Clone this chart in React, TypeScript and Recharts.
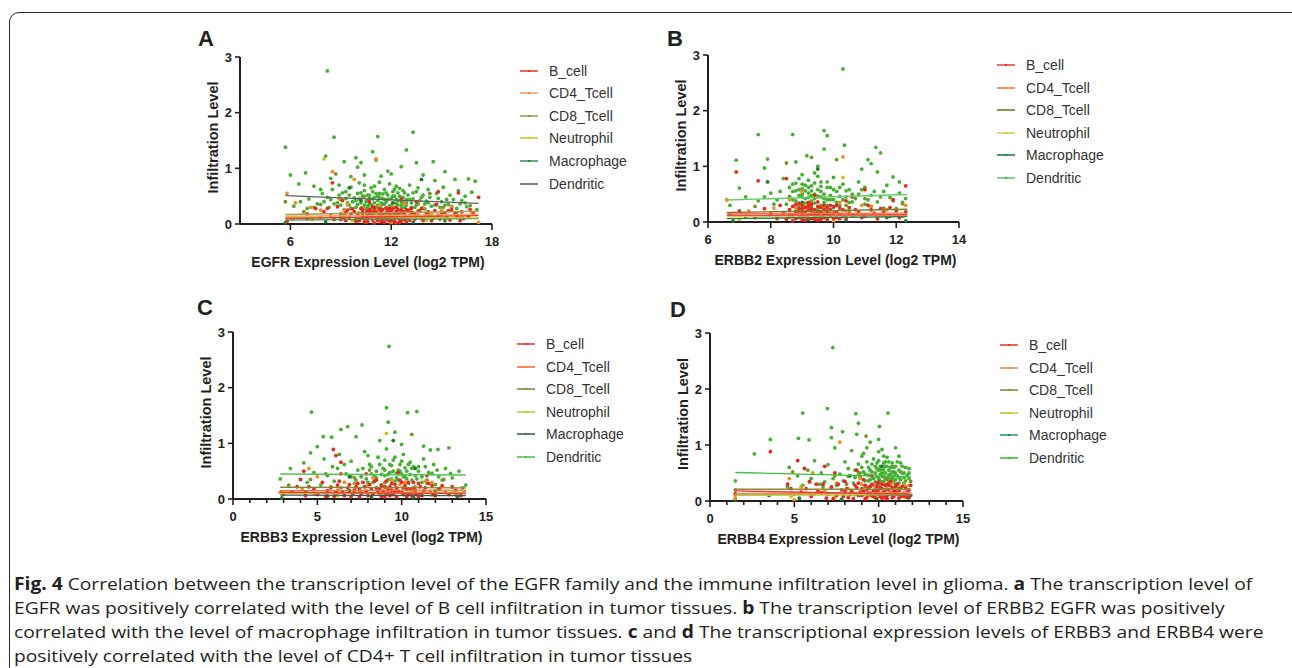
import { ScatterChart, Scatter, XAxis, YAxis, Legend } from 'recharts';

type Pt = [number, number];

const cellTypes = ['B_cell', 'CD4_Tcell', 'CD8_Tcell', 'Neutrophil', 'Macrophage', 'Dendritic'];
const infiltrationTicks = [0, 1, 2, 3];
const pointColors = ['#e8281c', '#f28a26', '#80902a', '#ccc020', '#1f7a30', '#46b034'];

// ---- A: EGFR ----
const egfrTicks = [6, 12, 18];
const egfrDendritic: Pt[] = [
  [8.2, 2.75], [5.7, 1.38], [8.6, 1.56], [11.2, 1.57], [13.3, 1.65], [12.9, 1.33], [10.9, 1.3], [8.1, 1.22], [9.9, 1.19],
  [10.2, 1.1], [9.2, 1.12], [13.5, 1.1], [14.5, 1.12], [12.6, 1.03], [10.0, 1.02], [6.0, 0.88], [6.9, 0.92], [15.2, 0.94],
  [11.8, 0.95], [12.0, 0.9], [9.6, 0.85], [10.4, 0.88], [13.9, 0.88], [16.6, 0.81], [15.8, 0.8], [17.0, 0.77], [14.6, 0.78],
  [11.4, 0.86], [8.4, 0.82], [6.5, 0.72], [7.4, 0.68], [7.9, 0.55], [8.5, 0.62], [8.9, 0.7], [9.3, 0.58], [9.6, 0.66],
  [10.1, 0.74], [10.4, 0.6], [10.7, 0.52], [11.0, 0.68], [11.3, 0.55], [11.6, 0.62], [11.9, 0.72], [12.2, 0.5], [12.5, 0.64],
  [12.8, 0.56], [13.1, 0.7], [13.5, 0.58], [13.8, 0.48], [14.2, 0.62], [14.7, 0.55], [15.1, 0.66], [15.5, 0.52], [16.0, 0.6],
  [16.4, 0.5], [16.8, 0.57], [7.1, 0.45], [8.2, 0.48], [9.0, 0.44], [9.8, 0.47], [10.6, 0.43], [11.5, 0.46], [12.4, 0.42],
  [13.3, 0.45], [14.1, 0.41], [15.3, 0.44], [16.2, 0.42], [6.2, 0.32], [7.0, 0.28], [7.6, 0.36], [8.3, 0.3], [8.8, 0.38],
  [9.2, 0.26], [9.5, 0.34], [9.9, 0.3], [10.2, 0.38], [10.5, 0.27], [10.8, 0.35], [11.1, 0.3], [11.4, 0.38], [11.7, 0.28],
  [12.0, 0.33], [12.3, 0.37], [12.6, 0.29], [12.9, 0.34], [13.2, 0.3], [13.6, 0.36], [14.0, 0.27], [14.4, 0.32], [14.9, 0.3],
  [15.4, 0.35], [15.9, 0.28], [16.5, 0.31], [17.1, 0.26], [10.3, 0.5], [10.9, 0.58], [11.2, 0.42], [11.8, 0.52], [12.1, 0.58],
  [10.0, 0.55], [11.5, 0.35], [12.2, 0.3], [10.6, 0.32], [11.0, 0.48], [11.7, 0.4], [12.7, 0.48], [9.5, 0.52], [10.8, 0.65],
  [11.3, 0.75], [12.3, 0.68], [9.0, 0.34], [9.3, 0.46], [9.6, 0.28], [9.7, 0.4], [10.0, 0.35], [10.1, 0.45], [10.3, 0.3],
  [10.5, 0.4], [10.6, 0.52], [10.7, 0.36], [10.9, 0.45], [11.0, 0.26], [11.1, 0.55], [11.2, 0.34], [11.3, 0.48], [11.4, 0.28],
  [11.6, 0.44], [11.7, 0.56], [11.9, 0.32], [12.0, 0.46], [12.1, 0.38], [12.2, 0.62], [12.4, 0.34], [12.5, 0.5], [12.6, 0.4],
  [12.8, 0.3], [12.9, 0.44], [13.0, 0.52], [13.2, 0.38], [13.4, 0.3], [13.7, 0.42], [14.0, 0.36], [14.3, 0.48], [14.6, 0.34],
  [15.0, 0.4], [15.6, 0.3], [16.1, 0.36], [8.0, 0.4], [8.6, 0.36], [8.9, 0.52], [7.4, 0.3], [6.6, 0.4], [7.8, 0.62],
  [13.6, 0.65], [10.4, 0.7], [9.4, 0.38], [9.9, 0.42], [10.2, 0.56], [10.4, 0.34], [10.7, 0.46], [10.8, 0.28], [11.0, 0.38],
  [11.2, 0.5], [11.3, 0.32], [11.5, 0.54], [11.6, 0.36], [11.8, 0.44], [12.0, 0.28], [12.1, 0.5], [12.3, 0.44], [12.4, 0.56],
  [12.6, 0.34], [12.7, 0.6], [12.9, 0.38], [13.1, 0.44], [13.3, 0.56], [13.5, 0.34], [13.9, 0.52], [14.2, 0.38], [14.8, 0.46],
  [15.2, 0.34], [15.7, 0.44], [16.4, 0.38], [9.1, 0.56], [8.4, 0.44],
];
const egfrBcell: Pt[] = [
  [5.8, 0.05], [6.2, 0.12], [7.0, 0.18], [7.5, 0.28], [8.0, 0.22], [8.4, 0.15], [8.5, 0.74], [8.8, 0.31], [9.0, 0.08],
  [9.1, 0.42], [9.3, 0.2], [9.5, 0.12], [9.7, 0.27], [9.9, 0.05], [10.0, 0.18], [10.2, 0.1], [10.3, 0.25], [10.5, 0.03],
  [10.6, 0.15], [10.7, 0.4], [10.8, 0.22], [10.9, 0.07], [11.0, 0.3], [11.1, 0.12], [11.3, 0.18], [11.4, 0.04], [11.5, 0.26],
  [11.6, 0.1], [11.7, 0.2], [11.8, 0.14], [11.9, 0.06], [12.0, 0.24], [12.1, 0.16], [12.2, 0.09], [12.3, 0.3], [12.4, 0.12],
  [12.5, 0.2], [12.6, 0.05], [12.6, 0.45], [12.7, 0.17], [12.9, 0.26], [13.0, 0.11], [13.2, 0.21], [13.4, 0.08], [13.5, 0.4],
  [13.6, 0.16], [13.8, 0.28], [14.0, 0.13], [14.2, 0.22], [14.5, 0.1], [14.7, 0.35], [14.8, 0.58], [15.0, 0.18], [15.3, 0.12],
  [15.6, 0.26], [15.9, 0.15], [16.0, 0.56], [16.2, 0.22], [16.6, 0.14], [17.2, 0.48], [10.4, 0.12], [10.9, 0.2], [11.2, 0.06],
  [11.6, 0.16], [12.0, 0.11], [12.3, 0.02], [11.0, 0.14], [11.8, 0.25], [12.8, 0.08], [10.6, 0.24], [11.4, 0.22], [12.2, 0.19],
  [13.1, 0.15], [9.6, 0.18], [9.2, 0.1], [9.8, 0.22], [10.1, 0.06], [10.2, 0.28], [10.3, 0.15], [10.4, 0.04], [10.5, 0.2],
  [10.6, 0.09], [10.7, 0.26], [10.8, 0.13], [10.9, 0.31], [11.0, 0.02], [11.1, 0.21], [11.2, 0.14], [11.3, 0.27], [11.4, 0.1],
  [11.5, 0.17], [11.6, 0.03], [11.7, 0.29], [11.8, 0.07], [11.9, 0.19], [12.0, 0.15], [12.1, 0.27], [12.2, 0.04], [12.3, 0.22],
  [12.4, 0.18], [12.5, 0.08], [12.6, 0.25], [12.7, 0.11], [12.8, 0.2], [12.9, 0.04], [13.0, 0.24], [13.1, 0.07], [13.3, 0.18],
  [13.5, 0.12], [13.7, 0.23], [13.9, 0.06], [14.1, 0.19], [14.3, 0.14], [14.6, 0.24], [14.9, 0.09], [15.2, 0.2], [15.5, 0.07],
  [15.8, 0.19], [16.3, 0.1], [16.9, 0.18], [9.4, 0.25], [9.0, 0.18], [8.6, 0.08], [8.2, 0.28], [7.8, 0.12], [10.0, 0.1],
  [10.3, 0.2], [10.6, 0.04], [10.8, 0.18], [11.0, 0.24], [11.2, 0.1], [11.4, 0.16], [11.5, 0.06], [11.7, 0.12], [11.9, 0.28],
  [12.0, 0.06], [12.2, 0.14], [12.4, 0.26], [12.5, 0.03], [12.7, 0.22], [12.9, 0.14], [13.2, 0.28], [13.4, 0.18], [13.8, 0.1],
  [14.4, 0.06], [14.8, 0.16], [15.4, 0.24], [16.1, 0.06], [16.7, 0.26], [9.3, 0.06],
];
const egfrCd4: Pt[] = [
  [5.8, 0.55], [6.3, 0.38], [7.2, 0.3], [7.8, 0.25], [8.5, 0.94], [8.9, 0.45], [9.4, 0.35], [9.8, 0.8], [10.0, 0.05],
  [10.3, 0.28], [10.9, 0.17], [11.1, 1.17], [11.3, 0.33], [11.8, 0.22], [12.0, 0.02], [12.3, 0.15], [12.8, 0.36], [13.3, 0.2],
  [13.9, 0.3], [14.4, 0.18], [15.0, 0.25], [15.6, 0.32], [16.1, 0.12], [16.8, 0.2], [17.2, 0.03], [10.5, 0.1], [11.2, 0.24],
  [11.6, 0.08], [12.1, 0.3], [12.5, 0.12], [13.1, 0.26], [10.1, 0.2], [11.9, 0.16], [14.6, 0.12], [9.2, 0.24],
];
const egfrCd8: Pt[] = [
  [5.7, 0.4], [6.8, 0.22], [7.8, 0.35], [8.7, 0.9], [9.2, 0.15], [9.6, 0.28], [10.4, 0.5], [11.1, 1.15], [11.9, 0.26],
  [12.7, 0.4], [13.0, 0.12], [13.6, 0.24], [14.3, 0.55], [15.1, 0.3], [15.9, 0.2], [16.7, 0.33],
];
const egfrNeutrophil: Pt[] = [
  [6.1, 0.1], [7.3, 0.08], [8.0, 1.17], [8.6, 0.12], [9.7, 0.06], [10.8, 0.11], [11.9, 0.09], [12.9, 0.13], [14.1, 0.07],
  [15.3, 0.1], [16.6, 0.12],
];
const egfrMacrophage: Pt[] = [
  [5.7, 0.02], [7.0, 0.1], [8.1, 0.04], [9.0, 0.15], [9.5, 0.65], [9.9, 0.08], [10.2, 0.42], [10.7, 0.2], [11.5, 0.05],
  [12.1, 0.38], [12.4, 0.12], [13.3, 0.03], [13.8, 0.8], [14.2, 0.16], [15.2, 0.06], [16.3, 0.1],
];
const egfrFitX = [5.7, 17.2];
const egfrFitStart = [0.1, 0.14, 0.17, 0.12, 0.07, 0.51];
const egfrFitEnd = [0.15, 0.17, 0.23, 0.11, 0.1, 0.37];

// ---- B: ERBB2 ----
const erbb2Ticks = [6, 8, 10, 12, 14];
const erbb2Dendritic: Pt[] = [
  [10.3, 2.75], [7.6, 1.57], [8.7, 1.57], [9.7, 1.64], [9.8, 1.55], [10.35, 1.38], [9.7, 1.31], [11.35, 1.34], [11.5, 1.24],
  [6.9, 1.11], [7.9, 1.13], [9.15, 1.19], [10.1, 1.12], [11.1, 1.12], [11.2, 1.05], [7.0, 0.61], [7.8, 0.97], [8.8, 1.08],
  [11.9, 0.81], [12.1, 0.72], [11.4, 0.9], [10.9, 0.95], [9.5, 1.0], [8.4, 0.78], [8.6, 0.62], [8.7, 0.55], [8.8, 0.7],
  [8.9, 0.48], [9.0, 0.85], [9.0, 0.6], [9.1, 0.42], [9.2, 0.75], [9.2, 0.52], [9.3, 0.65], [9.3, 0.38], [9.4, 0.88],
  [9.4, 0.5], [9.5, 0.58], [9.6, 0.45], [9.6, 0.72], [9.7, 0.35], [9.8, 0.62], [9.9, 0.48], [10.0, 0.8], [10.0, 0.4],
  [10.1, 0.55], [10.2, 0.3], [10.3, 0.68], [10.4, 0.45], [10.5, 0.58], [10.6, 0.36], [10.8, 0.5], [11.0, 0.62], [11.1, 0.4],
  [11.3, 0.55], [11.5, 0.45], [11.7, 0.66], [11.9, 0.38], [12.1, 0.52], [12.3, 0.42], [7.2, 0.45], [7.6, 0.38], [8.0, 0.52],
  [8.2, 0.4], [6.7, 0.3], [8.5, 0.32], [8.8, 0.28], [9.0, 0.25], [9.5, 0.22], [10.0, 0.26], [10.5, 0.2], [11.2, 0.28],
  [12.0, 0.24], [8.9, 0.58], [9.1, 0.66], [9.2, 0.32], [9.4, 0.42], [9.6, 0.55], [9.8, 0.4], [9.0, 0.5], [8.7, 0.4],
  [9.3, 0.48], [9.9, 0.62], [8.6, 0.46], [8.7, 0.68], [8.8, 0.38], [8.8, 0.56], [8.9, 0.3], [8.9, 0.78], [9.0, 0.45],
  [9.0, 0.68], [9.1, 0.34], [9.1, 0.56], [9.2, 0.44], [9.2, 0.62], [9.3, 0.28], [9.3, 0.56], [9.4, 0.34], [9.4, 0.7],
  [9.5, 0.46], [9.5, 0.82], [9.6, 0.3], [9.6, 0.64], [9.7, 0.5], [9.7, 0.42], [9.8, 0.3], [9.8, 0.72], [9.9, 0.4],
  [10.0, 0.58], [10.1, 0.35], [10.2, 0.62], [10.2, 0.46], [10.3, 0.4], [10.4, 0.56], [10.5, 0.35], [10.6, 0.5], [10.7, 0.42],
  [10.9, 0.58], [11.0, 0.32], [11.2, 0.48], [11.4, 0.36], [11.6, 0.55], [11.8, 0.44], [12.2, 0.35], [8.3, 0.55], [8.1, 0.32],
  [7.8, 0.45], [10.8, 0.72],
];
const erbb2Bcell: Pt[] = [
  [6.7, 0.12], [6.9, 0.9], [7.0, 0.2], [7.5, 0.08], [7.6, 0.74], [8.0, 0.15], [8.3, 0.3], [8.5, 0.05], [8.5, 0.78],
  [8.6, 0.22], [8.7, 0.12], [8.8, 0.32], [8.9, 0.08], [9.0, 0.18], [9.0, 0.04], [9.1, 0.26], [9.2, 0.12], [9.2, 0.35],
  [9.3, 0.06], [9.3, 0.2], [9.4, 0.15], [9.4, 0.48], [9.5, 0.28], [9.5, 0.03], [9.6, 0.1], [9.7, 0.22], [9.8, 0.14],
  [9.9, 0.3], [10.0, 0.07], [10.1, 0.18], [10.2, 0.25], [10.3, 0.1], [10.4, 0.38], [10.5, 0.15], [10.6, 0.45], [10.7, 0.22],
  [10.9, 0.08], [11.0, 0.58], [11.1, 0.3], [11.3, 0.16], [11.5, 0.24], [11.8, 0.1], [11.9, 0.4], [12.0, 0.2], [12.2, 0.12],
  [12.3, 0.65], [8.8, 0.16], [8.9, 0.24], [9.0, 0.3], [9.1, 0.1], [9.2, 0.22], [9.3, 0.14], [9.4, 0.05], [9.6, 0.18],
  [9.7, 0.08], [9.5, 0.14], [8.7, 0.02], [9.8, 0.26], [10.0, 0.16], [10.2, 0.06], [8.6, 0.1], [8.7, 0.28], [8.8, 0.06],
  [8.9, 0.18], [8.9, 0.34], [9.0, 0.11], [9.0, 0.24], [9.1, 0.03], [9.1, 0.18], [9.2, 0.28], [9.2, 0.07], [9.3, 0.24],
  [9.3, 0.32], [9.4, 0.1], [9.4, 0.22], [9.5, 0.18], [9.5, 0.36], [9.6, 0.05], [9.6, 0.26], [9.7, 0.14], [9.7, 0.3],
  [9.8, 0.04], [9.8, 0.2], [9.9, 0.1], [9.9, 0.22], [10.0, 0.28], [10.1, 0.08], [10.1, 0.3], [10.2, 0.14], [10.3, 0.22],
  [10.4, 0.08], [10.5, 0.26], [10.6, 0.12], [10.8, 0.18], [11.0, 0.1], [11.2, 0.22], [11.4, 0.06], [11.6, 0.18], [11.8, 0.26],
  [12.1, 0.08], [8.4, 0.16], [8.2, 0.06], [7.8, 0.24], [7.2, 0.1], [12.3, 0.18],
];
const erbb2Cd4: Pt[] = [
  [6.6, 0.4], [7.3, 0.2], [8.1, 0.25], [8.6, 0.4], [9.0, 0.55], [9.1, 0.3], [9.6, 0.18], [10.0, 0.02], [10.2, 0.35],
  [10.3, 1.17], [10.7, 0.12], [11.2, 0.28], [11.7, 0.22], [12.3, 0.3], [8.8, 0.26], [9.0, 0.12], [9.3, 0.34], [9.5, 0.08],
  [9.7, 0.26], [9.9, 0.12], [10.4, 0.2], [10.9, 0.3], [8.6, 0.14], [11.5, 0.12],
];
const erbb2Cd8: Pt[] = [
  [6.6, 0.4], [7.5, 0.28], [8.5, 1.06], [8.8, 0.2], [9.3, 1.16], [9.5, 0.45], [9.9, 0.15], [10.4, 0.3], [11.0, 0.42],
  [11.6, 0.25], [12.2, 0.33],
];
const erbb2Neutrophil: Pt[] = [
  [7.0, 0.05], [8.2, 0.1], [9.0, 0.14], [9.8, 0.08], [10.3, 0.8], [10.6, 0.12], [11.4, 0.06], [12.2, 0.1],
];
const erbb2Macrophage: Pt[] = [
  [6.8, 0.02], [7.9, 0.72], [8.6, 0.1], [9.0, 0.35], [9.2, 0.05], [9.5, 0.95], [9.8, 0.18], [10.4, 0.04], [11.0, 0.12],
  [11.7, 0.08], [12.3, 0.02],
];
const erbb2FitX = [6.6, 12.35];
const erbb2FitStart = [0.12, 0.15, 0.17, 0.1, 0.06, 0.395];
const erbb2FitEnd = [0.13, 0.16, 0.23, 0.12, 0.1, 0.495];

// ---- C: ERBB3 ----
const erbb3Ticks = [0, 1, 2, 3, 4, 5, 6, 7, 8, 9, 10, 11, 12, 13, 14, 15];
const erbb3Dendritic: Pt[] = [
  [9.25, 2.74], [4.65, 1.56], [9.1, 1.64], [10.9, 1.57], [10.35, 1.55], [9.2, 1.38], [7.65, 1.33], [6.8, 1.3], [6.4, 1.25],
  [5.35, 1.12], [5.85, 1.11], [9.6, 1.2], [7.3, 1.12], [5.0, 0.94], [12.8, 0.92], [11.7, 0.88], [12.15, 0.89], [4.6, 0.83],
  [8.7, 1.05], [10.0, 0.98], [11.3, 0.95], [2.8, 0.36], [3.4, 0.55], [4.2, 0.65], [4.8, 0.48], [5.4, 0.72], [5.9, 0.58],
  [6.3, 0.8], [6.7, 0.45], [7.0, 0.68], [7.4, 0.52], [7.8, 0.85], [8.1, 0.62], [8.4, 0.4], [8.6, 0.75], [8.9, 0.55],
  [9.1, 0.9], [9.3, 0.48], [9.5, 0.7], [9.7, 0.38], [9.9, 0.62], [10.1, 0.8], [10.3, 0.5], [10.5, 0.66], [10.8, 0.42],
  [11.0, 0.58], [11.3, 0.72], [11.6, 0.48], [11.9, 0.62], [12.2, 0.4], [12.6, 0.55], [13.0, 0.38], [13.4, 0.5], [13.8, 0.25],
  [4.4, 0.3], [5.2, 0.25], [6.0, 0.32], [7.2, 0.28], [8.0, 0.3], [8.8, 0.26], [9.6, 0.32], [10.4, 0.28], [11.2, 0.3],
  [12.0, 0.26], [8.5, 0.5], [9.0, 0.42], [9.4, 0.6], [9.8, 0.52], [10.2, 0.4], [10.6, 0.55], [8.2, 0.45], [7.6, 0.4],
  [9.2, 0.35], [10.0, 0.45], [7.0, 0.4], [7.3, 0.34], [7.7, 0.55], [7.9, 0.36], [8.2, 0.58], [8.3, 0.3], [8.5, 0.38],
  [8.7, 0.62], [8.8, 0.44], [9.0, 0.52], [9.0, 0.7], [9.2, 0.44], [9.3, 0.62], [9.4, 0.36], [9.5, 0.5], [9.6, 0.75],
  [9.7, 0.46], [9.8, 0.34], [9.9, 0.5], [10.0, 0.68], [10.1, 0.4], [10.2, 0.56], [10.3, 0.36], [10.4, 0.62], [10.5, 0.44],
  [10.6, 0.34], [10.7, 0.58], [10.9, 0.36], [11.0, 0.5], [11.2, 0.4], [11.4, 0.58], [11.5, 0.34], [11.8, 0.46], [12.1, 0.52],
  [12.4, 0.34], [12.9, 0.46], [6.2, 0.55], [5.6, 0.42], [6.6, 0.62], [8.0, 0.78],
];
const erbb3Bcell: Pt[] = [
  [3.5, 0.12], [4.0, 0.35], [4.2, 0.5], [4.5, 0.22], [5.0, 0.08], [5.3, 0.3], [5.6, 0.15], [5.95, 0.89], [6.0, 0.05],
  [6.1, 0.78], [6.2, 0.25], [6.4, 0.66], [6.5, 0.12], [6.8, 0.2], [7.0, 0.04], [7.2, 0.16], [7.4, 0.28], [7.6, 0.1],
  [7.8, 0.22], [7.9, 0.45], [8.0, 0.06], [8.2, 0.18], [8.4, 0.32], [8.6, 0.12], [8.8, 0.24], [9.0, 0.04], [9.2, 0.16],
  [9.4, 0.28], [9.5, 0.08], [9.7, 0.2], [9.8, 0.48], [9.9, 0.34], [10.0, 0.12], [10.2, 0.24], [10.3, 0.05], [10.5, 0.18],
  [10.7, 0.3], [10.9, 0.1], [11.1, 0.22], [11.3, 0.14], [11.5, 0.42], [11.6, 0.28], [11.9, 0.08], [12.2, 0.18], [12.6, 0.12],
  [13.0, 0.22], [13.5, 0.06], [8.5, 0.2], [9.1, 0.1], [9.6, 0.14], [10.1, 0.2], [10.4, 0.09], [10.8, 0.16], [9.3, 0.22],
  [8.9, 0.14], [7.5, 0.18], [11.0, 0.05], [5.5, 0.05], [5.8, 0.2], [6.1, 0.12], [6.3, 0.32], [6.6, 0.06], [6.9, 0.26],
  [7.1, 0.1], [7.3, 0.22], [7.5, 0.04], [7.7, 0.3], [7.9, 0.14], [8.1, 0.26], [8.3, 0.08], [8.5, 0.34], [8.7, 0.18],
  [8.8, 0.05], [9.0, 0.22], [9.1, 0.32], [9.3, 0.06], [9.4, 0.16], [9.6, 0.26], [9.7, 0.04], [9.8, 0.14], [10.0, 0.3],
  [10.1, 0.08], [10.3, 0.18], [10.4, 0.3], [10.6, 0.06], [10.7, 0.2], [10.8, 0.1], [11.0, 0.28], [11.2, 0.06], [11.4, 0.2],
  [11.7, 0.12], [11.8, 0.24], [12.0, 0.06], [12.4, 0.24], [12.8, 0.08], [13.2, 0.16], [13.7, 0.12], [4.8, 0.18], [4.3, 0.06],
  [3.8, 0.22], [3.0, 0.1], [6.4, 0.45],
];
const erbb3Cd4: Pt[] = [
  [2.8, 0.12], [4.1, 0.18], [4.5, 0.55], [5.0, 0.4], [5.8, 0.22], [6.6, 0.3], [7.5, 0.15], [8.3, 0.38], [9.1, 0.2],
  [9.9, 0.26], [10.6, 0.14], [11.4, 0.32], [12.3, 0.2], [13.2, 0.1], [8.0, 0.25], [8.7, 0.08], [9.4, 0.34], [9.6, 0.12],
  [10.2, 0.3], [10.8, 0.22], [7.3, 0.28], [11.1, 0.1], [11.8, 0.3], [6.2, 0.16],
];
const erbb3Cd8: Pt[] = [
  [3.3, 0.25], [4.6, 0.35], [5.5, 0.45], [6.4, 0.2], [7.2, 0.38], [8.1, 0.52], [8.6, 0.15], [9.0, 0.3], [9.8, 0.45],
  [10.6, 1.16], [11.5, 0.28], [12.5, 0.35], [13.6, 0.2],
];
const erbb3Neutrophil: Pt[] = [
  [3.0, 0.08], [4.8, 0.1], [6.2, 0.06], [7.6, 0.12], [9.0, 0.08], [9.1, 1.18], [10.4, 0.11], [11.8, 0.07], [13.0, 0.12],
];
const erbb3Macrophage: Pt[] = [
  [2.9, 0.02], [4.3, 0.12], [5.6, 0.05], [6.9, 0.15], [6.9, 0.4], [8.2, 0.04], [9.4, 0.1], [9.5, 1.05], [10.7, 0.03],
  [10.8, 0.55], [12.0, 0.14], [13.3, 0.05],
];
const erbb3FitX = [2.8, 13.8];
const erbb3FitStart = [0.12, 0.15, 0.21, 0.1, 0.07, 0.45];
const erbb3FitEnd = [0.1, 0.16, 0.2, 0.12, 0.06, 0.43];

// ---- D: ERBB4 ----
const erbb4Ticks = [0, 1, 2, 3, 4, 5, 6, 7, 8, 9, 10, 11, 12, 13, 14, 15];
const erbb4Dendritic: Pt[] = [
  [7.28, 2.74], [5.5, 1.57], [6.96, 1.65], [8.65, 1.56], [10.55, 1.57], [8.8, 1.39], [10.05, 1.33], [7.2, 1.31], [3.58, 1.1],
  [5.24, 1.12], [5.87, 1.09], [2.63, 0.84], [8.7, 1.19], [7.86, 1.24], [7.2, 1.13], [10.0, 1.1], [9.5, 1.05], [11.0, 0.95],
  [1.5, 0.36], [4.7, 0.6], [5.2, 0.45], [5.8, 0.55], [6.2, 0.72], [6.6, 0.5], [7.0, 0.65], [7.4, 0.95], [7.7, 0.48],
  [8.0, 0.7], [8.2, 0.58], [8.4, 0.9], [8.6, 0.42], [8.8, 0.66], [9.0, 0.8], [9.1, 0.52], [9.3, 0.95], [9.4, 0.6],
  [9.6, 0.45], [9.7, 0.75], [9.9, 0.58], [10.0, 0.88], [10.1, 0.48], [10.3, 0.68], [10.4, 0.4], [10.5, 0.78], [10.6, 0.55],
  [10.8, 0.62], [10.9, 0.45], [11.1, 0.7], [11.3, 0.52], [11.5, 0.42], [11.8, 0.58], [4.6, 0.25], [5.5, 0.28], [6.5, 0.3],
  [7.5, 0.28], [8.5, 0.32], [9.2, 0.26], [9.8, 0.34], [10.2, 0.3], [10.7, 0.28], [11.2, 0.32], [11.6, 0.25], [10.2, 0.5],
  [10.4, 0.62], [10.6, 0.42], [10.0, 0.4], [9.8, 0.5], [10.8, 0.52], [11.0, 0.38], [9.5, 0.38], [10.3, 0.35], [10.9, 0.6],
  [8.9, 0.42], [9.0, 0.6], [9.2, 0.48], [9.3, 0.7], [9.4, 0.36], [9.5, 0.55], [9.6, 0.66], [9.7, 0.4], [9.8, 0.62],
  [9.9, 0.44], [10.0, 0.55], [10.0, 0.72], [10.1, 0.36], [10.1, 0.62], [10.2, 0.44], [10.3, 0.56], [10.3, 0.8], [10.4, 0.5],
  [10.5, 0.38], [10.5, 0.62], [10.6, 0.7], [10.6, 0.32], [10.7, 0.48], [10.7, 0.6], [10.8, 0.4], [10.9, 0.52], [11.0, 0.3],
  [11.0, 0.62], [11.1, 0.45], [11.2, 0.55], [11.3, 0.38], [11.4, 0.62], [11.5, 0.5], [11.6, 0.36], [11.7, 0.46], [11.8, 0.4],
  [8.6, 0.55], [8.2, 0.44], [7.9, 0.36], [7.3, 0.4], [6.8, 0.34], [6.0, 0.4], [9.1, 0.85], [10.2, 0.92], [11.2, 0.8],
  [9.2, 0.36], [9.6, 0.52], [9.9, 0.68], [10.1, 0.56], [10.4, 0.7], [10.6, 0.46], [10.8, 0.68], [11.0, 0.5], [11.2, 0.42],
  [11.4, 0.5], [11.6, 0.6], [11.8, 0.5], [10.3, 0.44], [10.9, 0.36], [9.4, 0.46], [8.8, 0.5], [11.5, 0.32], [10.0, 0.3],
  [10.7, 0.36], [11.3, 0.68],
];
const erbb4Bcell: Pt[] = [
  [1.5, 0.13], [3.58, 0.88], [4.6, 0.3], [5.0, 0.12], [5.2, 0.72], [5.6, 0.58], [5.7, 0.22], [6.0, 0.08], [6.3, 0.3],
  [6.6, 0.15], [6.8, 0.62], [6.9, 0.05], [7.2, 0.25], [7.4, 0.5], [7.5, 0.1], [7.8, 0.2], [8.0, 0.35], [8.2, 0.06],
  [8.4, 0.18], [8.6, 0.28], [8.7, 0.55], [8.8, 0.1], [9.0, 0.22], [9.1, 0.38], [9.2, 0.04], [9.4, 0.14], [9.5, 0.26],
  [9.6, 0.45], [9.7, 0.08], [9.8, 0.2], [9.9, 0.32], [10.0, 0.12], [10.1, 0.24], [10.2, 0.05], [10.3, 0.16], [10.4, 0.28],
  [10.5, 0.1], [10.6, 0.2], [10.7, 0.35], [10.8, 0.06], [10.9, 0.18], [11.0, 0.26], [11.1, 0.12], [11.3, 0.22], [11.5, 0.08],
  [11.7, 0.16], [11.9, 0.1], [9.3, 0.2], [9.9, 0.15], [10.2, 0.22], [10.5, 0.3], [10.8, 0.14], [11.2, 0.05], [9.6, 0.1],
  [10.0, 0.34], [8.9, 0.16], [10.4, 0.06], [7.6, 0.3], [7.9, 0.08], [8.1, 0.22], [8.3, 0.12], [8.5, 0.04], [8.7, 0.24],
  [8.8, 0.32], [9.0, 0.1], [9.1, 0.18], [9.2, 0.28], [9.3, 0.06], [9.4, 0.24], [9.5, 0.14], [9.6, 0.3], [9.7, 0.18],
  [9.8, 0.06], [9.9, 0.26], [10.0, 0.2], [10.1, 0.08], [10.2, 0.3], [10.3, 0.1], [10.4, 0.2], [10.5, 0.04], [10.6, 0.28],
  [10.7, 0.14], [10.8, 0.24], [10.9, 0.08], [11.0, 0.16], [11.1, 0.3], [11.2, 0.18], [11.3, 0.08], [11.4, 0.26], [11.5, 0.14],
  [11.6, 0.22], [11.7, 0.06], [11.8, 0.2], [11.9, 0.28], [6.4, 0.18], [6.7, 0.3], [7.0, 0.12], [5.4, 0.16], [5.9, 0.34],
  [4.8, 0.22], [7.3, 0.04], [8.0, 0.18],
];
const erbb4Cd4: Pt[] = [
  [1.5, 0.05], [4.7, 0.4], [5.0, 0.02], [5.4, 0.25], [6.1, 0.5], [6.8, 0.18], [7.5, 0.32], [7.7, 1.05], [8.2, 0.22],
  [8.9, 0.4], [9.6, 0.15], [10.3, 0.3], [11.0, 0.2], [11.8, 0.28], [9.0, 0.3], [9.4, 0.1], [9.8, 0.26], [10.1, 0.14],
  [10.5, 0.22], [10.8, 0.32], [11.2, 0.12], [11.5, 0.3], [8.5, 0.14], [7.2, 0.24],
];
const erbb4Cd8: Pt[] = [
  [1.5, 0.2], [4.9, 0.52], [5.9, 0.35], [6.7, 0.25], [7.4, 0.45], [8.1, 0.3], [8.9, 0.5], [9.25, 1.16], [9.7, 0.28],
  [10.4, 0.4], [11.2, 0.24], [11.9, 0.35],
];
const erbb4Neutrophil: Pt[] = [
  [1.5, 0.1], [4.8, 0.08], [6.2, 0.12], [7.4, 0.06], [8.6, 0.11], [9.6, 0.08], [10.6, 0.12], [11.6, 0.07],
];
const erbb4Macrophage: Pt[] = [
  [1.5, 0.02], [3.5, 0.1], [5.3, 0.05], [6.6, 0.14], [7.8, 0.03], [8.3, 0.45], [8.9, 0.12], [9.9, 0.04], [10.2, 0.62],
  [10.9, 0.15], [11.8, 0.06],
];
const erbb4FitX = [1.5, 11.9];
const erbb4FitStart = [0.18, 0.13, 0.21, 0.1, 0.13, 0.51];
const erbb4FitEnd = [0.12, 0.15, 0.21, 0.12, 0.1, 0.43];

const captionLines = [
  [['Fig. 4', true], [' Correlation between the transcription level of the EGFR family and the immune infiltration level in glioma. ', false], ['a', true], [' The transcription level of', false]],
  [['EGFR was positively correlated with the level of B cell infiltration in tumor tissues. ', false], ['b', true], [' The transcription level of ERBB2 EGFR was positively', false]],
  [['correlated with the level of macrophage infiltration in tumor tissues. ', false], ['c', true], [' and ', false], ['d', true], [' The transcriptional expression levels of ERBB3 and ERBB4 were', false]],
  [['positively correlated with the level of CD4+ T cell infiltration in tumor tissues', false]],
] as [string, boolean][][];

const AXIS = '#231f20';
const FONT = '"Liberation Sans", Arial, Helvetica, sans-serif';
const drawOrder = [5, 4, 3, 2, 1, 0];

const panels = [
  {
    letter: 'A', left: 190, top: 30, width: 470, height: 245, marginRight: 168,
    xDomain: [3, 18], xTicks: egfrTicks, majorStep: 6, xTitle: 'EGFR Expression Level (log2 TPM)',
    points: [egfrBcell, egfrCd4, egfrCd8, egfrNeutrophil, egfrMacrophage, egfrDendritic],
    fitX: egfrFitX, fitStart: egfrFitStart, fitEnd: egfrFitEnd,
    lineColors: ['#ee3b2e', '#f4a56c', '#a0a050', '#c8cc2c', '#3a9a5e', '#5f5f5f'],
    legendLeft: 330, legendTop: 29.4, letterLeft: 198, letterTop: 28,
  },
  {
    letter: 'B', left: 658, top: 28, width: 460, height: 245, marginRight: 159,
    xDomain: [6, 14], xTicks: erbb2Ticks, majorStep: 2, xTitle: 'ERBB2 Expression Level (log2 TPM)',
    points: [erbb2Bcell, erbb2Cd4, erbb2Cd8, erbb2Neutrophil, erbb2Macrophage, erbb2Dendritic],
    fitX: erbb2FitX, fitStart: erbb2FitStart, fitEnd: erbb2FitEnd,
    lineColors: ['#f0463e', '#f07a4a', '#7d7a32', '#d2d25a', '#2c7c4c', '#66cc66'],
    legendLeft: 339, legendTop: 25.7, letterLeft: 667, letterTop: 28,
  },
  {
    letter: 'C', left: 183, top: 305, width: 460, height: 245, marginRight: 157,
    xDomain: [0, 15], xTicks: erbb3Ticks, majorStep: 5, xTitle: 'ERBB3 Expression Level (log2 TPM)',
    points: [erbb3Bcell, erbb3Cd4, erbb3Cd8, erbb3Neutrophil, erbb3Macrophage, erbb3Dendritic],
    fitX: erbb3FitX, fitStart: erbb3FitStart, fitEnd: erbb3FitEnd,
    lineColors: ['#ee3b2e', '#f07040', '#7d8a32', '#c8c840', '#3c5e4c', '#55c055'],
    legendLeft: 334, legendTop: 27.7, letterLeft: 197, letterTop: 297,
  },
  {
    letter: 'D', left: 660, top: 306, width: 460, height: 246, marginRight: 157,
    xDomain: [0, 15], xTicks: erbb4Ticks, majorStep: 5, xTitle: 'ERBB4 Expression Level (log2 TPM)',
    points: [erbb4Bcell, erbb4Cd4, erbb4Cd8, erbb4Neutrophil, erbb4Macrophage, erbb4Dendritic],
    fitX: erbb4FitX, fitStart: erbb4FitStart, fitEnd: erbb4FitEnd,
    lineColors: ['#ee3b2e', '#f08a50', '#8a8a3a', '#c8c83a', '#3a9a70', '#3cc03c'],
    legendLeft: 340, legendTop: 27.7, letterLeft: 670, letterTop: 299,
  },
];

const toXY = (pts: Pt[]) => pts.map(([x, y]) => ({ x, y }));

const dotShape = (color: string) => (props: any) =>
  <circle cx={props.cx} cy={props.cy} r={1.9} fill={color} />;
const noShape = () => <g />;

function makeXTick(step: number) {
  return function XTick(props: any) {
    const { x, y, payload } = props;
    const v = payload.value as number;
    const major = Math.abs(v / step - Math.round(v / step)) < 1e-6;
    return (
      <g>
        <line x1={x} x2={x} y1={y} y2={y + (major ? 6 : 4)} stroke={AXIS} strokeWidth={1.6} />
        {major && (
          <text x={x} y={y + 22} textAnchor="middle" fontFamily={FONT} fontSize={13} fontWeight="bold" fill={AXIS}>
            {v}
          </text>
        )}
      </g>
    );
  };
}

function xTitle(text: string) {
  return (props: any) => {
    const vb = props.viewBox;
    return (
      <text x={vb.x + vb.width / 2 + 2} y={vb.y + 43} textAnchor="middle" fontFamily={FONT} fontSize={14} fontWeight="bold" fill={AXIS}>
        {text}
      </text>
    );
  };
}

function yTitle(props: any) {
  const vb = props.viewBox;
  const x = vb.x + vb.width - 21.8;
  const y = vb.y + vb.height / 2 - 3;
  return (
    <text x={x} y={y} transform={`rotate(-90 ${x} ${y})`} textAnchor="middle" fontFamily={FONT} fontSize={14.5} fontWeight="bold" fill={AXIS}>
      Infiltration Level
    </text>
  );
}

function LegendBox({ colors }: { colors: string[] }) {
  return (
    <div style={{ fontFamily: FONT, fontSize: 14, color: '#333' }}>
      {cellTypes.map((name, i) => (
        <div key={name} style={{ height: 22.6, display: 'flex', alignItems: 'center', whiteSpace: 'nowrap' }}>
          <svg width={29} height={10} style={{ flex: 'none' }}>
            <line x1={0} x2={18} y1={5} y2={5} stroke={colors[i]} strokeWidth={1.6} />
            <circle cx={9} cy={5} r={1.1} fill={pointColors[i]} />
          </svg>
          <span>{name}</span>
        </div>
      ))}
    </div>
  );
}

function Panel({ p }: { p: (typeof panels)[number] }) {
  return (
    <>
      <div style={{ position: 'absolute', left: p.letterLeft, top: p.letterTop, fontFamily: FONT, fontWeight: 'bold', fontSize: 22, lineHeight: '22px', color: AXIS }}>
        {p.letter}
      </div>
      <div style={{ position: 'absolute', left: p.left, top: p.top }}>
        <ScatterChart width={p.width} height={p.height} margin={{ top: 27, right: p.marginRight, bottom: 8, left: 20 }}>
          <XAxis
            type="number"
            dataKey="x"
            domain={p.xDomain}
            ticks={p.xTicks}
            interval={0}
            height={43}
            axisLine={{ stroke: AXIS, strokeWidth: 2 }}
            tickLine={false}
            tickSize={0}
            tickMargin={0}
            tick={makeXTick(p.majorStep)}
            label={{ content: xTitle(p.xTitle) }}
          />
          <YAxis
            type="number"
            dataKey="y"
            domain={[0, 3]}
            ticks={infiltrationTicks}
            interval={0}
            width={30}
            axisLine={{ stroke: AXIS, strokeWidth: 2 }}
            tickLine={{ stroke: AXIS, strokeWidth: 1.6 }}
            tickSize={5}
            tickMargin={3}
            tick={{ fill: AXIS, fontSize: 13, fontWeight: 'bold', fontFamily: FONT }}
            label={{ content: yTitle }}
          />
          {drawOrder.map((i) => (
            <Scatter
              key={cellTypes[i]}
              name={cellTypes[i]}
              data={toXY(p.points[i])}
              fill={pointColors[i]}
              shape={dotShape(pointColors[i])}
              legendType="none"
              isAnimationActive={false}
            />
          ))}
          {drawOrder.map((i) => (
            <Scatter
              key={'fit-' + cellTypes[i]}
              name={'fit-' + cellTypes[i]}
              data={[{ x: p.fitX[0], y: p.fitStart[i] }, { x: p.fitX[1], y: p.fitEnd[i] }]}
              line={{ stroke: p.lineColors[i], strokeWidth: 1.4 }}
              shape={noShape}
              legendType="none"
              isAnimationActive={false}
            />
          ))}
          <Legend
            layout="horizontal"
            verticalAlign="middle"
            align="center"
            wrapperStyle={{ left: p.legendLeft, top: p.legendTop, width: 150, height: 140 }}
            content={() => <LegendBox colors={p.lineColors} />}
          />
        </ScatterChart>
      </div>
    </>
  );
}

export default function App() {
  return (
    <div style={{ position: 'absolute', left: 0, top: 0, width: 1292, height: 668, overflow: 'hidden', background: '#fff' }}>
      <div style={{ position: 'absolute', left: 9, top: 12, width: 1300, height: 700, border: '1.5px solid #2a2a2a', borderRadius: 10 }} />
      {panels.map((p) => (
        <Panel key={p.letter} p={p} />
      ))}
      {captionLines.map((line, li) => (
        <div
          key={li}
          style={{
            position: 'absolute', left: 14, top: 572 + li * 24, height: 24,
            fontFamily: '"Open Sans", sans-serif', fontSize: 17, lineHeight: '24px', color: AXIS, whiteSpace: 'nowrap',
            transform: 'scaleX(1.13)', transformOrigin: '0 0',
          }}
        >
          {line.map(([t, b], k) => (
            <span key={k} style={{ fontWeight: b ? 'bold' : 'normal' }}>{t}</span>
          ))}
        </div>
      ))}
    </div>
  );
}
